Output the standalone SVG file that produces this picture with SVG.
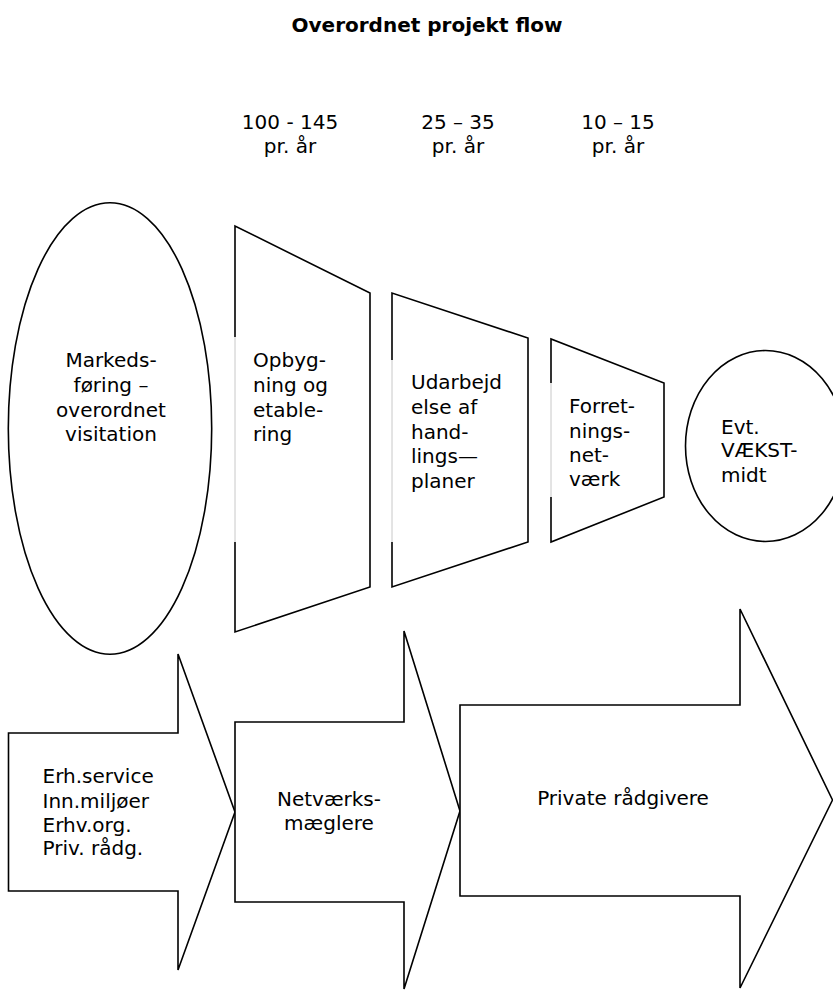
<svg xmlns="http://www.w3.org/2000/svg" width="833" height="990" viewBox="0 0 833 990">
<style>
text{font-family:"DejaVu Sans","Liberation Sans",sans-serif;font-size:20px;fill:#000}
.t{font-weight:bold}
.c{text-anchor:middle}
.s{fill:#fff;stroke:#000;stroke-width:1.6}
.o{fill:none;stroke:#000;stroke-width:1.6}
.f{fill:#fff;stroke:none}
.g{stroke:#c8c8c8;stroke-width:1}
</style>
<rect width="833" height="990" fill="#fff"/>
<text class="t c" x="427" y="32">Overordnet projekt flow</text>
<g id="counts">
<text class="c" x="290" y="129">100 - 145</text>
<text class="c" x="290" y="153">pr. år</text>
<text class="c" x="458" y="129">25 – 35</text>
<text class="c" x="458" y="153">pr. år</text>
<text class="c" x="618" y="129">10 – 15</text>
<text class="c" x="618" y="153">pr. år</text>
</g>
<g id="markedsforing">
<ellipse class="s" cx="110" cy="428.5" rx="101.7" ry="225.7"/>
<text class="c" x="111" y="367">Markeds-</text>
<text class="c" x="111" y="392">føring –</text>
<text class="c" x="111" y="416.5">overordnet</text>
<text class="c" x="111" y="441">visitation</text>
</g>
<g id="opbygning">
<polygon class="f" points="235,226 370,293 370,587 235,632"/>
<path class="o" d="M235,337 L235,226 L370,293 L370,587 L235,632 L235,542"/>
<line class="g" x1="235" y1="337" x2="235" y2="542"/>
<text x="253" y="367">Opbyg-</text>
<text x="253" y="392">ning og</text>
<text x="253" y="416.5">etable-</text>
<text x="253" y="441">ring</text>
</g>
<g id="udarbejdelse">
<polygon class="f" points="392,293 528,338 528,542 392,587"/>
<path class="o" d="M392,360 L392,293 L528,338 L528,542 L392,587 L392,542"/>
<line class="g" x1="392" y1="360" x2="392" y2="542"/>
<text x="411" y="389">Udarbejd</text>
<text x="411" y="414">else af</text>
<text x="411" y="438.5">hand-</text>
<text x="411" y="463">lings—</text>
<text x="411" y="487.5">planer</text>
</g>
<g id="forretningsnetvaerk">
<polygon class="f" points="551,339 664,383 664,497 551,542"/>
<path class="o" d="M551,383 L551,339 L664,383 L664,497 L551,542 L551,497"/>
<line class="g" x1="551" y1="383" x2="551" y2="497"/>
<text x="569" y="413">Forret-</text>
<text x="569" y="437.5">nings-</text>
<text x="569" y="462">net-</text>
<text x="569" y="486">værk</text>
</g>
<g id="vaekstmidt">
<ellipse class="s" cx="765.5" cy="446" rx="80" ry="95.5"/>
<text x="721" y="434">Evt.</text>
<text x="721" y="457">VÆKST-</text>
<text x="721" y="481.5">midt</text>
</g>
<g id="erhservice">
<polygon class="s" points="8.5,733 178,733 178,654 235,812 178,970 178,891 8.5,891"/>
<text x="42.5" y="783">Erh.service</text>
<text x="42.5" y="807.5">Inn.miljøer</text>
<text x="42.5" y="831.5">Erhv.org.</text>
<text x="42.5" y="855">Priv. rådg.</text>
</g>
<g id="netvaerksmaeglere">
<polygon class="s" points="235,722 404,722 404,631 460,811 404,989 404,902 235,902"/>
<text class="c" x="329" y="805.5">Netværks-</text>
<text class="c" x="329" y="830">mæglere</text>
</g>
<g id="privateradgivere">
<polygon class="s" points="460,705 740,705 740,609 832.5,800 740,988 740,896 460,896"/>
<text class="c" x="623" y="805">Private rådgivere</text>
</g>
<g id="connectors"></g>
</svg>
